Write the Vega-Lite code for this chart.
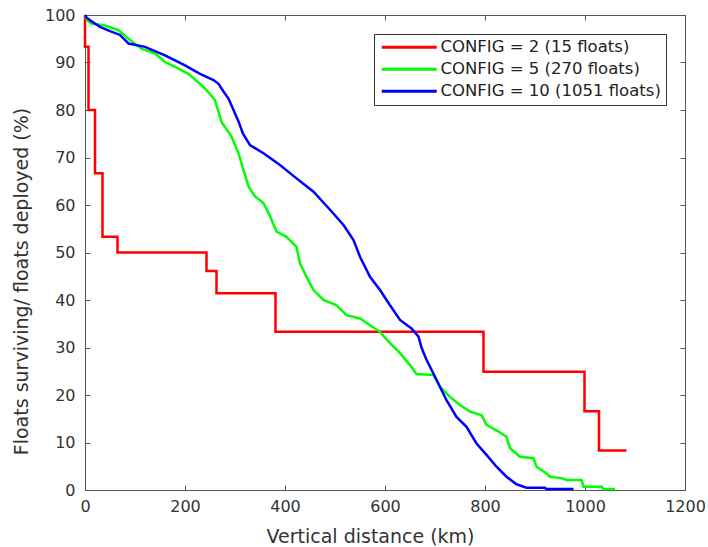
{
  "$schema": "https://vega.github.io/schema/vega-lite/v6.json",
  "width": 600,
  "height": 475,
  "autosize": {"type": "none"},
  "padding": {"left": 85, "top": 15, "right": 23, "bottom": 57},
  "background": "white",
  "config": {
    "font": "DejaVu Sans",
    "view": {"stroke": "#555555", "strokeWidth": 1},
    "axis": {
      "grid": false,
      "domainColor": "#555555",
      "tickColor": "#555555",
      "tickSize": -5,
      "labelFontSize": 16,
      "labelColor": "#333333",
      "labelFlush": false,
      "labelOverlap": false,
      "format": "d",
      "titleFontSize": 19,
      "titleFontWeight": "normal",
      "titleColor": "#333333"
    },
    "legend": {
      "labelFontSize": 16.5,
      "labelColor": "#222222",
      "labelLimit": 0
    }
  },
  "datasets": {
    "survival": [
      {"config": 2, "series": "CONFIG = 2 (15 floats)", "km": 0, "pct": 100},
      {"config": 2, "series": "CONFIG = 2 (15 floats)", "km": 0, "pct": 93.3},
      {"config": 2, "series": "CONFIG = 2 (15 floats)", "km": 7, "pct": 80},
      {"config": 2, "series": "CONFIG = 2 (15 floats)", "km": 20, "pct": 66.7},
      {"config": 2, "series": "CONFIG = 2 (15 floats)", "km": 35, "pct": 53.3},
      {"config": 2, "series": "CONFIG = 2 (15 floats)", "km": 65, "pct": 50},
      {"config": 2, "series": "CONFIG = 2 (15 floats)", "km": 243, "pct": 46.1},
      {"config": 2, "series": "CONFIG = 2 (15 floats)", "km": 263, "pct": 41.4},
      {"config": 2, "series": "CONFIG = 2 (15 floats)", "km": 381, "pct": 33.3},
      {"config": 2, "series": "CONFIG = 2 (15 floats)", "km": 797, "pct": 24.9},
      {"config": 2, "series": "CONFIG = 2 (15 floats)", "km": 999, "pct": 16.6},
      {"config": 2, "series": "CONFIG = 2 (15 floats)", "km": 1028, "pct": 8.3},
      {"config": 2, "series": "CONFIG = 2 (15 floats)", "km": 1083, "pct": 8.3},

      {"config": 5, "series": "CONFIG = 5 (270 floats)", "km": 0, "pct": 100},
      {"config": 5, "series": "CONFIG = 5 (270 floats)", "km": 5, "pct": 98.8},
      {"config": 5, "series": "CONFIG = 5 (270 floats)", "km": 13, "pct": 98.2},
      {"config": 5, "series": "CONFIG = 5 (270 floats)", "km": 40, "pct": 97.8},
      {"config": 5, "series": "CONFIG = 5 (270 floats)", "km": 67, "pct": 96.8},
      {"config": 5, "series": "CONFIG = 5 (270 floats)", "km": 87, "pct": 95},
      {"config": 5, "series": "CONFIG = 5 (270 floats)", "km": 113, "pct": 92.9},
      {"config": 5, "series": "CONFIG = 5 (270 floats)", "km": 140, "pct": 91.9},
      {"config": 5, "series": "CONFIG = 5 (270 floats)", "km": 160, "pct": 90.1},
      {"config": 5, "series": "CONFIG = 5 (270 floats)", "km": 180, "pct": 89.1},
      {"config": 5, "series": "CONFIG = 5 (270 floats)", "km": 207, "pct": 87.6},
      {"config": 5, "series": "CONFIG = 5 (270 floats)", "km": 230, "pct": 85.5},
      {"config": 5, "series": "CONFIG = 5 (270 floats)", "km": 243, "pct": 84.2},
      {"config": 5, "series": "CONFIG = 5 (270 floats)", "km": 260, "pct": 82.1},
      {"config": 5, "series": "CONFIG = 5 (270 floats)", "km": 273, "pct": 77.5},
      {"config": 5, "series": "CONFIG = 5 (270 floats)", "km": 293, "pct": 74.4},
      {"config": 5, "series": "CONFIG = 5 (270 floats)", "km": 307, "pct": 70.9},
      {"config": 5, "series": "CONFIG = 5 (270 floats)", "km": 317, "pct": 67.4},
      {"config": 5, "series": "CONFIG = 5 (270 floats)", "km": 327, "pct": 63.9},
      {"config": 5, "series": "CONFIG = 5 (270 floats)", "km": 340, "pct": 61.8},
      {"config": 5, "series": "CONFIG = 5 (270 floats)", "km": 357, "pct": 60.4},
      {"config": 5, "series": "CONFIG = 5 (270 floats)", "km": 370, "pct": 57.7},
      {"config": 5, "series": "CONFIG = 5 (270 floats)", "km": 383, "pct": 54.4},
      {"config": 5, "series": "CONFIG = 5 (270 floats)", "km": 403, "pct": 53.3},
      {"config": 5, "series": "CONFIG = 5 (270 floats)", "km": 423, "pct": 51.2},
      {"config": 5, "series": "CONFIG = 5 (270 floats)", "km": 430, "pct": 47.7},
      {"config": 5, "series": "CONFIG = 5 (270 floats)", "km": 443, "pct": 44.9},
      {"config": 5, "series": "CONFIG = 5 (270 floats)", "km": 457, "pct": 42.1},
      {"config": 5, "series": "CONFIG = 5 (270 floats)", "km": 477, "pct": 40},
      {"config": 5, "series": "CONFIG = 5 (270 floats)", "km": 503, "pct": 38.9},
      {"config": 5, "series": "CONFIG = 5 (270 floats)", "km": 523, "pct": 36.8},
      {"config": 5, "series": "CONFIG = 5 (270 floats)", "km": 550, "pct": 36.1},
      {"config": 5, "series": "CONFIG = 5 (270 floats)", "km": 570, "pct": 34.7},
      {"config": 5, "series": "CONFIG = 5 (270 floats)", "km": 590, "pct": 33.3},
      {"config": 5, "series": "CONFIG = 5 (270 floats)", "km": 610, "pct": 30.9},
      {"config": 5, "series": "CONFIG = 5 (270 floats)", "km": 630, "pct": 28.8},
      {"config": 5, "series": "CONFIG = 5 (270 floats)", "km": 650, "pct": 26.3},
      {"config": 5, "series": "CONFIG = 5 (270 floats)", "km": 663, "pct": 24.4},
      {"config": 5, "series": "CONFIG = 5 (270 floats)", "km": 697, "pct": 24.2},
      {"config": 5, "series": "CONFIG = 5 (270 floats)", "km": 710, "pct": 21.7},
      {"config": 5, "series": "CONFIG = 5 (270 floats)", "km": 730, "pct": 19.6},
      {"config": 5, "series": "CONFIG = 5 (270 floats)", "km": 750, "pct": 17.9},
      {"config": 5, "series": "CONFIG = 5 (270 floats)", "km": 770, "pct": 16.5},
      {"config": 5, "series": "CONFIG = 5 (270 floats)", "km": 793, "pct": 15.8},
      {"config": 5, "series": "CONFIG = 5 (270 floats)", "km": 803, "pct": 13.7},
      {"config": 5, "series": "CONFIG = 5 (270 floats)", "km": 827, "pct": 12.3},
      {"config": 5, "series": "CONFIG = 5 (270 floats)", "km": 843, "pct": 11.2},
      {"config": 5, "series": "CONFIG = 5 (270 floats)", "km": 850, "pct": 8.8},
      {"config": 5, "series": "CONFIG = 5 (270 floats)", "km": 870, "pct": 7.0},
      {"config": 5, "series": "CONFIG = 5 (270 floats)", "km": 897, "pct": 6.7},
      {"config": 5, "series": "CONFIG = 5 (270 floats)", "km": 903, "pct": 4.9},
      {"config": 5, "series": "CONFIG = 5 (270 floats)", "km": 923, "pct": 3.5},
      {"config": 5, "series": "CONFIG = 5 (270 floats)", "km": 930, "pct": 2.8},
      {"config": 5, "series": "CONFIG = 5 (270 floats)", "km": 953, "pct": 2.5},
      {"config": 5, "series": "CONFIG = 5 (270 floats)", "km": 963, "pct": 2.1},
      {"config": 5, "series": "CONFIG = 5 (270 floats)", "km": 993, "pct": 2.1},
      {"config": 5, "series": "CONFIG = 5 (270 floats)", "km": 997, "pct": 0.7},
      {"config": 5, "series": "CONFIG = 5 (270 floats)", "km": 1033, "pct": 0.7},
      {"config": 5, "series": "CONFIG = 5 (270 floats)", "km": 1037, "pct": 0.2},
      {"config": 5, "series": "CONFIG = 5 (270 floats)", "km": 1060, "pct": 0.2},

      {"config": 10, "series": "CONFIG = 10 (1051 floats)", "km": 0, "pct": 100},
      {"config": 10, "series": "CONFIG = 10 (1051 floats)", "km": 3, "pct": 99.5},
      {"config": 10, "series": "CONFIG = 10 (1051 floats)", "km": 10, "pct": 98.9},
      {"config": 10, "series": "CONFIG = 10 (1051 floats)", "km": 30, "pct": 97.5},
      {"config": 10, "series": "CONFIG = 10 (1051 floats)", "km": 50, "pct": 96.6},
      {"config": 10, "series": "CONFIG = 10 (1051 floats)", "km": 70, "pct": 95.8},
      {"config": 10, "series": "CONFIG = 10 (1051 floats)", "km": 87, "pct": 94.0},
      {"config": 10, "series": "CONFIG = 10 (1051 floats)", "km": 120, "pct": 93.3},
      {"config": 10, "series": "CONFIG = 10 (1051 floats)", "km": 160, "pct": 91.5},
      {"config": 10, "series": "CONFIG = 10 (1051 floats)", "km": 200, "pct": 89.4},
      {"config": 10, "series": "CONFIG = 10 (1051 floats)", "km": 230, "pct": 87.6},
      {"config": 10, "series": "CONFIG = 10 (1051 floats)", "km": 257, "pct": 86.3},
      {"config": 10, "series": "CONFIG = 10 (1051 floats)", "km": 267, "pct": 85.5},
      {"config": 10, "series": "CONFIG = 10 (1051 floats)", "km": 277, "pct": 83.9},
      {"config": 10, "series": "CONFIG = 10 (1051 floats)", "km": 287, "pct": 82.4},
      {"config": 10, "series": "CONFIG = 10 (1051 floats)", "km": 297, "pct": 80},
      {"config": 10, "series": "CONFIG = 10 (1051 floats)", "km": 307, "pct": 77.6},
      {"config": 10, "series": "CONFIG = 10 (1051 floats)", "km": 316, "pct": 75.0},
      {"config": 10, "series": "CONFIG = 10 (1051 floats)", "km": 330, "pct": 72.6},
      {"config": 10, "series": "CONFIG = 10 (1051 floats)", "km": 357, "pct": 70.9},
      {"config": 10, "series": "CONFIG = 10 (1051 floats)", "km": 390, "pct": 68.4},
      {"config": 10, "series": "CONFIG = 10 (1051 floats)", "km": 423, "pct": 65.6},
      {"config": 10, "series": "CONFIG = 10 (1051 floats)", "km": 457, "pct": 62.8},
      {"config": 10, "series": "CONFIG = 10 (1051 floats)", "km": 490, "pct": 59},
      {"config": 10, "series": "CONFIG = 10 (1051 floats)", "km": 517, "pct": 55.8},
      {"config": 10, "series": "CONFIG = 10 (1051 floats)", "km": 537, "pct": 52.6},
      {"config": 10, "series": "CONFIG = 10 (1051 floats)", "km": 550, "pct": 49.1},
      {"config": 10, "series": "CONFIG = 10 (1051 floats)", "km": 570, "pct": 44.9},
      {"config": 10, "series": "CONFIG = 10 (1051 floats)", "km": 590, "pct": 42.1},
      {"config": 10, "series": "CONFIG = 10 (1051 floats)", "km": 610, "pct": 38.9},
      {"config": 10, "series": "CONFIG = 10 (1051 floats)", "km": 630, "pct": 35.8},
      {"config": 10, "series": "CONFIG = 10 (1051 floats)", "km": 653, "pct": 34.0},
      {"config": 10, "series": "CONFIG = 10 (1051 floats)", "km": 667, "pct": 32.3},
      {"config": 10, "series": "CONFIG = 10 (1051 floats)", "km": 673, "pct": 30},
      {"config": 10, "series": "CONFIG = 10 (1051 floats)", "km": 683, "pct": 27.4},
      {"config": 10, "series": "CONFIG = 10 (1051 floats)", "km": 703, "pct": 23.2},
      {"config": 10, "series": "CONFIG = 10 (1051 floats)", "km": 723, "pct": 18.9},
      {"config": 10, "series": "CONFIG = 10 (1051 floats)", "km": 743, "pct": 15.4},
      {"config": 10, "series": "CONFIG = 10 (1051 floats)", "km": 763, "pct": 13.3},
      {"config": 10, "series": "CONFIG = 10 (1051 floats)", "km": 783, "pct": 9.8},
      {"config": 10, "series": "CONFIG = 10 (1051 floats)", "km": 803, "pct": 7.4},
      {"config": 10, "series": "CONFIG = 10 (1051 floats)", "km": 823, "pct": 4.9},
      {"config": 10, "series": "CONFIG = 10 (1051 floats)", "km": 843, "pct": 2.8},
      {"config": 10, "series": "CONFIG = 10 (1051 floats)", "km": 863, "pct": 1.2},
      {"config": 10, "series": "CONFIG = 10 (1051 floats)", "km": 883, "pct": 0.5},
      {"config": 10, "series": "CONFIG = 10 (1051 floats)", "km": 920, "pct": 0.5},
      {"config": 10, "series": "CONFIG = 10 (1051 floats)", "km": 922, "pct": 0.2},
      {"config": 10, "series": "CONFIG = 10 (1051 floats)", "km": 977, "pct": 0.2}
    ]
  },
  "data": {"name": "survival"},
  "encoding": {
    "x": {"field": "km", "type": "quantitative", "scale": {"domain": [0, 1200], "nice": false}},
    "y": {"field": "pct", "type": "quantitative", "scale": {"domain": [0, 100], "nice": false}},
    "color": {
      "field": "series",
      "type": "nominal",
      "scale": {
        "domain": ["CONFIG = 2 (15 floats)", "CONFIG = 5 (270 floats)", "CONFIG = 10 (1051 floats)"],
        "range": ["#ff0000", "#00ff00", "#0000ff"]
      },
      "legend": {
        "title": null,
        "orient": "none",
        "legendX": 289,
        "legendY": 19,
        "fillColor": "white",
        "strokeColor": "#333333",
        "padding": 5,
        "rowPadding": 5,
        "symbolType": "M-1,0H9",
        "symbolSize": 121,
        "symbolStrokeWidth": 3,
        "labelOffset": 45,
        "labelLimit": 0
      }
    }
  },
  "layer": [
    {
      "transform": [{"filter": "datum.config === 2"}],
      "mark": {"type": "line", "interpolate": "step-after", "strokeWidth": 2.5, "strokeJoin": "miter"},
      "encoding": {
        "x": {
          "field": "km", "type": "quantitative",
          "axis": {
            "orient": "bottom",
            "values": [0, 200, 400, 600, 800, 1000, 1200],
            "format": "d",
            "labelPadding": 13,
            "title": "Vertical distance (km)",
            "titlePadding": 13,
            "titleX": 285
          }
        },
        "y": {
          "field": "pct", "type": "quantitative",
          "axis": {
            "orient": "left",
            "values": [0, 10, 20, 30, 40, 50, 60, 70, 80, 90, 100],
            "format": "d",
            "labelPadding": 15,
            "title": "Floats surviving/ floats deployed (%)",
            "titlePadding": 13,
            "titleY": 266
          }
        }
      }
    },
    {
      "transform": [{"filter": "datum.config !== 2"}],
      "mark": {"type": "line", "strokeWidth": 2.5},
      "encoding": {
        "x": {
          "field": "km", "type": "quantitative",
          "axis": {
            "orient": "top",
            "values": [0, 200, 400, 600, 800, 1000, 1200],
            "labels": false,
            "title": null
          }
        },
        "y": {
          "field": "pct", "type": "quantitative",
          "axis": {
            "orient": "right",
            "values": [0, 10, 20, 30, 40, 50, 60, 70, 80, 90, 100],
            "labels": false,
            "title": null
          }
        }
      }
    }
  ],
  "resolve": {"axis": {"x": "independent", "y": "independent"}}
}
